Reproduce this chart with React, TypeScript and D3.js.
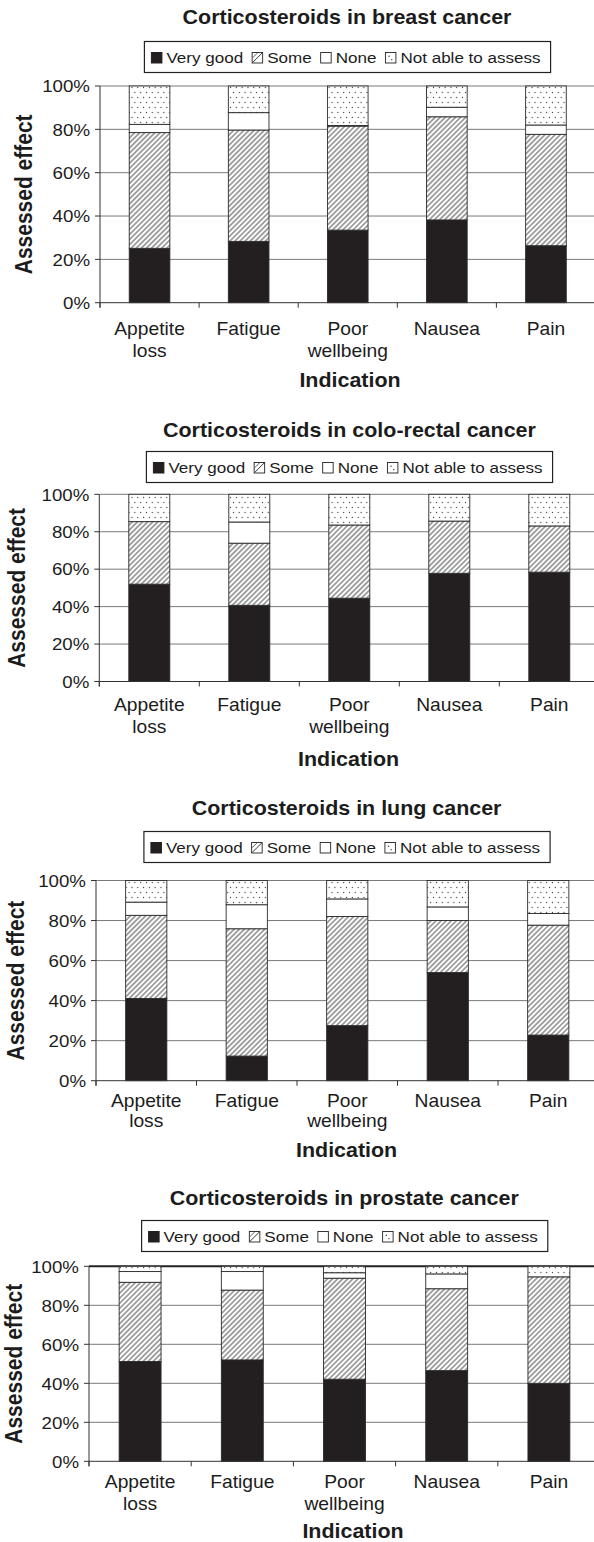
import React, { useEffect, useRef } from "react";
import * as d3 from "d3";

// ---------- data ----------
const categories = ["Appetite loss", "Fatigue", "Poor wellbeing", "Nausea", "Pain"];
const categoryLines = [["Appetite", "loss"], ["Fatigue"], ["Poor", "wellbeing"], ["Nausea"], ["Pain"]];
const seriesNames = ["Very good", "Some", "None", "Not able to assess"];
const seriesKeys = ["veryGood", "some", "none", "notAble"];
const yTicks = [0, 20, 40, 60, 80, 100];
const titles = [
  "Corticosteroids in breast cancer",
  "Corticosteroids in colo-rectal cancer",
  "Corticosteroids in lung cancer",
  "Corticosteroids in prostate cancer",
];
const xAxisTitle = "Indication";
const yAxisTitle = "Assessed effect";

const breastVeryGood = [25.1, 28.3, 33.5, 38.2, 26.3];
const breastSome = [53.4, 51.4, 48.0, 47.6, 51.4];
const breastNone = [3.8, 8.0, 0.3, 4.4, 4.3];
const breastNotAble = [17.7, 12.3, 18.2, 9.8, 18.0];

const coloRectalVeryGood = [52.0, 40.7, 44.5, 57.8, 58.4];
const coloRectalSome = [33.4, 33.2, 39.1, 27.9, 24.7];
const coloRectalNone = [0, 11.3, 0, 0, 0];
const coloRectalNotAble = [14.6, 14.8, 16.4, 14.3, 16.9];

const lungVeryGood = [41.1, 12.3, 27.5, 54.0, 22.8];
const lungSome = [41.5, 63.6, 54.5, 26.0, 54.9];
const lungNone = [6.6, 12.0, 8.8, 6.8, 5.8];
const lungNotAble = [10.8, 12.1, 9.2, 13.2, 16.5];

const prostateVeryGood = [51.2, 52.0, 42.1, 46.5, 40.0];
const prostateSome = [40.6, 35.8, 51.8, 42.0, 54.6];
const prostateNone = [5.5, 9.5, 2.8, 7.6, 0];
const prostateNotAble = [2.7, 2.7, 3.3, 3.9, 5.4];

// ---------- layout ----------
const SX = 1.1; // the source figure is slightly stretched horizontally
const FONT = "'Liberation Sans', Arial, Helvetica, sans-serif";
const INK = "#1c1c1c";

const layouts = [
  { titleX: 347, titleY: 24, legendCx: 347.5, legendBase: 63, top: 86, bottom: 302.7, x0: 100, step: 99.1, yTitleX: 31.5, catY: 334.5, catLH: 22, indX: 350, indY: 387, topLine: 1 },
  { titleX: 349.4, titleY: 437, legendCx: 349.5, legendBase: 473, top: 494.3, bottom: 681.5, x0: 99.3, step: 100, yTitleX: 25, catY: 711, catLH: 22.3, indX: 348.6, indY: 766, topLine: 1 },
  { titleX: 346.6, titleY: 815, legendCx: 347, legendBase: 853, top: 880.5, bottom: 1080.7, x0: 96, step: 100.5, yTitleX: 24, catY: 1107, catLH: 19.5, indX: 346.6, indY: 1157, topLine: 1 },
  { titleX: 344.3, titleY: 1205, legendCx: 344.7, legendBase: 1242, top: 1266.3, bottom: 1461.3, x0: 89, step: 102.2, yTitleX: 21.7, catY: 1488, catLH: 22, indX: 353, indY: 1537.5, topLine: 2 },
];

const panelValues = [
  [breastVeryGood, breastSome, breastNone, breastNotAble],
  [coloRectalVeryGood, coloRectalSome, coloRectalNone, coloRectalNotAble],
  [lungVeryGood, lungSome, lungNone, lungNotAble],
  [prostateVeryGood, prostateSome, prostateNone, prostateNotAble],
];

const fills: Record<string, string> = {
  veryGood: "#231f20",
  some: "url(#hatch)",
  none: "#ffffff",
  notAble: "url(#dots)",
};

function addText(g: any, x: number, y: number, str: string, size: number, weight: string, anchor: string) {
  return g
    .append("text")
    .attr("transform", `translate(${x},${y}) scale(${SX},1)`)
    .attr("text-anchor", anchor)
    .attr("font-family", FONT)
    .attr("font-size", size)
    .attr("font-weight", weight)
    .attr("fill", INK)
    .text(str);
}

function drawPanel(svg: any, idx: number) {
  const L = layouts[idx];
  const vals = panelValues[idx];
  const g = svg.append("g");

  const rows = categories.map((c, i) => {
    const r: any = { cat: c };
    seriesKeys.forEach((k, j) => (r[k] = vals[j][i]));
    return r;
  });
  const stacked = d3.stack().keys(seriesKeys).offset(d3.stackOffsetExpand)(rows);

  const x = d3
    .scaleBand()
    .domain(categories)
    .range([L.x0, L.x0 + 5 * L.step])
    .paddingInner(0.59)
    .paddingOuter(0.295);
  const y = d3.scaleLinear().domain([0, 100]).range([L.bottom, L.top]);
  const yFrac = d3.scaleLinear().domain([0, 1]).range([L.bottom, L.top]);
  const right = L.x0 + 5 * L.step;

  // gridlines
  yTicks.filter((t) => t > 0).forEach((t) => {
    g.append("line")
      .attr("x1", L.x0).attr("x2", right)
      .attr("y1", y(t)).attr("y2", y(t))
      .attr("stroke", t === 100 && L.topLine > 1 ? "#222" : "#7a7a7a")
      .attr("stroke-width", t === 100 ? L.topLine : 1);
  });

  // bars
  stacked.forEach((layer: any) => {
    layer.forEach((d: any) => {
      const h = yFrac(d[0]) - yFrac(d[1]);
      if (h <= 0.2) return;
      g.append("rect")
        .attr("x", x(d.data.cat))
        .attr("width", x.bandwidth())
        .attr("y", yFrac(d[1]))
        .attr("height", h)
        .attr("fill", fills[layer.key])
        .attr("stroke", "#2a2a2a")
        .attr("stroke-width", 0.9);
    });
  });

  // y axis
  g.append("line").attr("x1", L.x0).attr("x2", L.x0).attr("y1", L.top).attr("y2", L.bottom + 5)
    .attr("stroke", "#333").attr("stroke-width", 1);
  yTicks.forEach((t) => {
    g.append("line").attr("x1", L.x0 - 5).attr("x2", L.x0).attr("y1", y(t)).attr("y2", y(t))
      .attr("stroke", "#333").attr("stroke-width", 1);
    addText(g, L.x0 - 10, y(t) + 6.2, d3.format(".0%")(t / 100), 17, "normal", "end");
  });

  // x axis
  g.append("line").attr("x1", L.x0).attr("x2", right).attr("y1", L.bottom).attr("y2", L.bottom)
    .attr("stroke", "#333").attr("stroke-width", 1);
  d3.range(categories.length + 1).forEach((i) => {
    const xv = L.x0 + i * L.step;
    g.append("line").attr("x1", xv).attr("x2", xv).attr("y1", L.bottom).attr("y2", L.bottom + 5)
      .attr("stroke", "#333").attr("stroke-width", 1);
  });
  categories.forEach((c, i) => {
    const cx = (x(c) as number) + x.bandwidth() / 2;
    categoryLines[i].forEach((line, j) => {
      addText(g, cx, L.catY + j * L.catLH, line, 17.5, "normal", "middle");
    });
  });

  // titles
  addText(g, L.titleX, L.titleY, titles[idx], 19.5, "bold", "middle");
  addText(g, L.indX, L.indY, xAxisTitle, 19.5, "bold", "middle");
  g.append("text")
    .attr("transform", `translate(${L.yTitleX},${(L.top + L.bottom) / 2}) rotate(-90) scale(1,${SX})`)
    .attr("text-anchor", "middle")
    .attr("font-family", FONT)
    .attr("font-size", 21)
    .attr("font-weight", "bold")
    .attr("fill", INK)
    .text(yAxisTitle);

  // legend
  const lg = g.append("g");
  const sw = 10.5, gap = 4.5, itemGap = 9, padL = 7, padR = 10;
  const texts = seriesNames.map((n) => addText(lg, 0, 0, n, 15.5, "normal", "start"));
  const widths = texts.map((t: any) => t.node().getComputedTextLength() * SX);
  const total = padL + padR + d3.sum(widths) + seriesNames.length * (sw + gap) + (seriesNames.length - 1) * itemGap;
  const bx = L.legendCx - total / 2;
  const base = L.legendBase;
  lg.insert("rect", ":first-child")
    .attr("x", bx).attr("y", base - 21.5).attr("width", total).attr("height", 31)
    .attr("fill", "#fff").attr("stroke", "#222").attr("stroke-width", 1.2);
  let cx = bx + padL;
  seriesKeys.forEach((k, i) => {
    const sy = base - sw;
    if (k === "veryGood") {
      lg.append("rect").attr("x", cx).attr("y", sy).attr("width", sw).attr("height", sw).attr("fill", "#231f20").attr("stroke", "#231f20");
    } else {
      lg.append("rect").attr("x", cx).attr("y", sy).attr("width", sw).attr("height", sw).attr("fill", "#fff").attr("stroke", "#222").attr("stroke-width", 0.9);
      if (k === "some") {
        lg.append("line").attr("x1", cx + 0.5).attr("y1", sy + sw - 0.5).attr("x2", cx + sw - 0.5).attr("y2", sy + 0.5)
          .attr("stroke", "#222").attr("stroke-width", 0.9);
        lg.append("line").attr("x1", cx + 0.5).attr("y1", sy + sw / 2).attr("x2", cx + sw / 2).attr("y2", sy + 0.5)
          .attr("stroke", "#222").attr("stroke-width", 0.7);
      }
      if (k === "notAble") {
        lg.append("circle").attr("cx", cx + sw * 0.35).attr("cy", sy + sw * 0.35).attr("r", 0.7).attr("fill", "#333");
        lg.append("circle").attr("cx", cx + sw * 0.6).attr("cy", sy + sw * 0.68).attr("r", 0.7).attr("fill", "#333");
      }
    }
    cx += sw + gap;
    texts[i].attr("transform", `translate(${cx},${base}) scale(${SX},1)`);
    cx += widths[i] + itemGap;
  });
}

export default function App() {
  const ref = useRef<SVGSVGElement>(null);
  useEffect(() => {
    const svg = d3.select(ref.current);
    svg.selectAll("*").remove();
    const defs = svg.append("defs");
    const hs = 3.6;
    const hatch = defs.append("pattern").attr("id", "hatch").attr("patternUnits", "userSpaceOnUse")
      .attr("width", hs).attr("height", hs).attr("patternTransform", "rotate(45)");
    hatch.append("rect").attr("width", hs).attr("height", hs).attr("fill", "#fff");
    hatch.append("line").attr("x1", hs / 2).attr("x2", hs / 2).attr("y1", 0).attr("y2", hs)
      .attr("stroke", "#222").attr("stroke-width", 0.8);
    const dots = defs.append("pattern").attr("id", "dots").attr("patternUnits", "userSpaceOnUse")
      .attr("width", 5.8).attr("height", 10);
    dots.append("rect").attr("width", 5.8).attr("height", 10).attr("fill", "#fff");
    dots.append("circle").attr("cx", 1.45).attr("cy", 2.5).attr("r", 0.65).attr("fill", "#444");
    dots.append("circle").attr("cx", 4.35).attr("cy", 7.5).attr("r", 0.65).attr("fill", "#444");
    layouts.forEach((_, i) => drawPanel(svg, i));
  }, []);
  return (
    <svg
      ref={ref}
      width={594}
      height={1542}
      style={{ position: "absolute", left: 0, top: 0, background: "#fff", overflow: "hidden" }}
    />
  );
}
